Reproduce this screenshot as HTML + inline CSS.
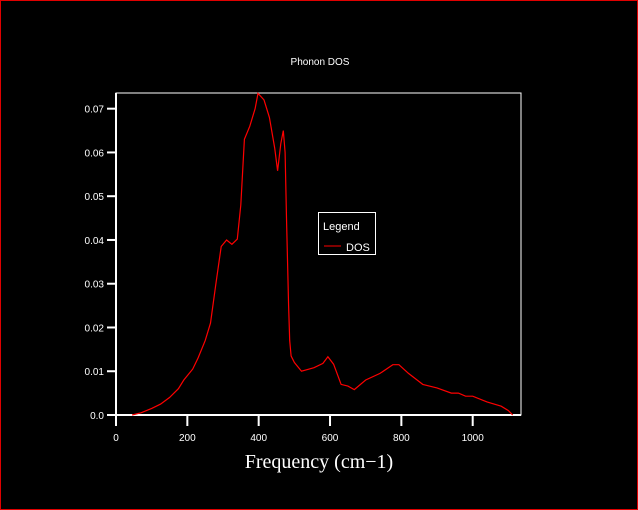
<!DOCTYPE html>
<html><head><meta charset="utf-8">
<style>
html,body{margin:0;padding:0;background:#000;}
#wrap{position:relative;width:638px;height:510px;box-sizing:border-box;border:1px solid #e00000;background:#000;overflow:hidden;}
svg{position:absolute;left:0;top:0;}
</style></head>
<body>
<div id="wrap">
<svg id="chart" width="638" height="510"></svg>
</div>
<script>
const freqs = [45,70,100,125,150,175,190,215,230,250,265,280,295,310,325,340,350,360,375,390,398,415,430,445,453,462,469,474,478,484,487,491,500,520,555,580,594,610,631,650,668,700,740,776,793,820,860,900,940,960,980,1000,1040,1080,1100,1112];
const dos   = [0,0.0005,0.0015,0.0025,0.004,0.006,0.008,0.0105,0.013,0.017,0.021,0.03,0.0385,0.040,0.039,0.0402,0.048,0.063,0.066,0.070,0.0735,0.072,0.068,0.061,0.0558,0.062,0.065,0.060,0.045,0.025,0.017,0.0135,0.012,0.010,0.0108,0.0118,0.0133,0.0116,0.007,0.0066,0.0058,0.008,0.0095,0.0115,0.0115,0.0095,0.007,0.0062,0.005,0.005,0.0043,0.0043,0.003,0.002,0.001,0];
const xTicks = [0,200,400,600,800,1000];
const yTicks = [0,0.01,0.02,0.03,0.04,0.05,0.06,0.07];
const yTickLabels = ["0.0","0.01","0.02","0.03","0.04","0.05","0.06","0.07"];

const L=115,R=520,T=92,B=414;
function xs(v){return L+v*0.3567;}
function ys(v){return B-v*4376;}
const svg=document.getElementById('chart');
const NS='http://www.w3.org/2000/svg';
function mk(tag,attrs){const e=document.createElementNS(NS,tag);for(const k in attrs)e.setAttribute(k,attrs[k]);svg.appendChild(e);return e;}

let t=mk('text',{x:319,y:64,fill:'#fff','font-family':'Liberation Sans, sans-serif','font-size':10,'text-anchor':'middle'});
t.textContent='Phonon DOS';



let box=mk('rect',{x:L,y:T,width:R-L,height:B-T,fill:'none',stroke:'#fff','stroke-width':1});


let ax=mk('line',{x1:L,y1:B,x2:R,y2:B,stroke:'#fff','stroke-width':2});


let ay=mk('line',{x1:L,y1:T,x2:L,y2:B,stroke:'#fff','stroke-width':2});



xTicks.forEach(v=>{
  const x=xs(v);
  const l=mk('line',{x1:x,y1:B,x2:x,y2:B+11,stroke:'#fff','stroke-width':2});
  
  
  const tx=mk('text',{x:x,y:440,fill:'#fff','font-family':'Liberation Sans, sans-serif','font-size':10,'text-anchor':'middle'});
  tx.textContent=String(v);
  
  
});
yTicks.forEach((v,i)=>{
  const y=ys(v);
  const l=mk('line',{x1:L-9,y1:y,x2:L,y2:y,stroke:'#fff','stroke-width':2});
  
  
  const tx=mk('text',{x:L-12,y:y+4,fill:'#fff','font-family':'Liberation Sans, sans-serif','font-size':10,'text-anchor':'end'});
  tx.textContent=yTickLabels[i];
  
  
});

let xt=mk('text',{x:318,y:467,fill:'#fff','font-family':'Liberation Serif, serif','font-size':20,'text-anchor':'middle'});
xt.textContent='Frequency (cm\u22121)';



const pts=freqs.map((f,i)=>xs(f).toFixed(1)+','+ys(dos[i]).toFixed(1)).join(' ');
let pl=mk('polyline',{points:pts,fill:'none',stroke:'#ff0000','stroke-width':1.2});



let lg=mk('rect',{x:317.5,y:211.5,width:57,height:42,fill:'#000',stroke:'#fff','stroke-width':1});


let lt=mk('text',{x:322,y:229,fill:'#fff','font-family':'Liberation Sans, sans-serif','font-size':11});
lt.textContent='Legend';


let ll=mk('line',{x1:323,y1:245,x2:340,y2:245,stroke:'#ff0000','stroke-width':1});


let le=mk('text',{x:345,y:250,fill:'#fff','font-family':'Liberation Sans, sans-serif','font-size':11});
le.textContent='DOS';


</script>
</body></html>
